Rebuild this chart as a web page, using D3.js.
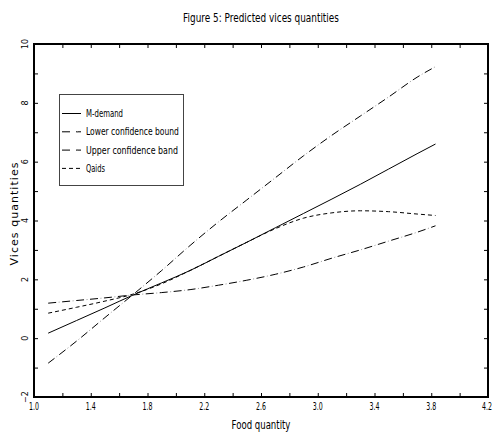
<!DOCTYPE html>
<html>
<head>
<meta charset="utf-8">
<script src="https://cdn.jsdelivr.net/npm/d3@7"></script>
<style>
  body { margin: 0; background: #fff; }
  text { font-family: "DejaVu Sans", sans-serif; fill: #000; }
</style>
</head>
<body>
<svg id="chart" width="494" height="448"></svg>
<script>
// food quantity grid
const food = [1.1, 1.3, 1.5, 1.7, 1.9, 2.1, 2.3, 2.5, 2.7, 2.9, 3.1, 3.3, 3.5, 3.7, 3.83];

// predicted vices quantities
const mDemand = [0.17, 0.60, 1.03, 1.47, 1.88, 2.30, 2.78, 3.26, 3.75, 4.24, 4.73, 5.23, 5.75, 6.27, 6.60];
const lowerBound = [1.19, 1.28, 1.37, 1.47, 1.55, 1.65, 1.80, 1.97, 2.17, 2.42, 2.72, 3.00, 3.30, 3.60, 3.82];
const upperBand = [-0.85, -0.10, 0.70, 1.49, 2.30, 3.15, 3.95, 4.70, 5.45, 6.20, 6.90, 7.55, 8.20, 8.87, 9.23];
const qaids = [0.85, 1.05, 1.26, 1.50, 1.85, 2.30, 2.78, 3.26, 3.72, 4.08, 4.26, 4.33, 4.30, 4.22, 4.17];

const xTickLabels = [1.0, 1.4, 1.8, 2.2, 2.6, 3.0, 3.4, 3.8, 4.2];
const yTickLabels = [-2, 0, 2, 4, 6, 8, 10];

const series = [
  { name: "M-demand", values: mDemand, dash: null, width: 37 },
  { name: "Lower confidence bound", values: lowerBound, dash: "8,6", dots: true, width: 93 },
  { name: "Upper confidence band", values: upperBand, dash: "8,6", dots: true, width: 92 },
  { name: "Qaids", values: qaids, dash: "4,3", width: 19 }
];

const svg = d3.select("#chart");
const m = { left: 34, right: 488, top: 44, bottom: 397 };

const x = d3.scaleLinear().domain([1.0, 4.2]).range([m.left, m.right]);
const y = d3.scaleLinear().domain([-2, 10]).range([m.bottom, m.top]);

// the original uses a tall condensed plotter font: squeeze text horizontally
function narrowText(g, px, py, str, size, width, anchor){
  let t = g.append("text")
    .attr("text-anchor", anchor || "start")
    .style("font-size", size + "px")
    .text(str);
  let sx = width / t.node().getComputedTextLength();
  t.attr("transform", `translate(${px},${py}) scale(${sx},1)`);
  return t;
}

// title
narrowText(svg, 261, 22, "Figure 5: Predicted vices quantities", 12, 156, "middle");

// inward ticks on all four sides
const xt = d3.range(1.0, 4.21, 0.2);
const yt = d3.range(-2, 10.01, 1);
svg.append("g").attr("transform", `translate(0,${m.bottom})`)
  .call(d3.axisBottom(x).tickValues(xt).tickSize(-4).tickFormat(""));
svg.append("g").attr("transform", `translate(0,${m.top})`)
  .call(d3.axisTop(x).tickValues(xt).tickSize(-4).tickFormat(""));
svg.append("g").attr("transform", `translate(${m.left},0)`)
  .call(d3.axisLeft(y).tickValues(yt).tickSize(-4).tickFormat(""));
svg.append("g").attr("transform", `translate(${m.right},0)`)
  .call(d3.axisRight(y).tickValues(yt).tickSize(-4).tickFormat(""));
svg.selectAll(".domain").remove();
svg.selectAll(".tick line").attr("stroke", "#000").attr("stroke-width", 1);

// frame
svg.append("rect")
  .attr("x", m.left).attr("y", m.top)
  .attr("width", m.right - m.left).attr("height", m.bottom - m.top)
  .attr("fill", "none").attr("stroke", "#000").attr("stroke-width", 2);

// x tick labels (last one right-aligned so it stays inside the window)
const xl = svg.append("g");
const last = xTickLabels[xTickLabels.length - 1];
xTickLabels.forEach(d => {
  if (d === last) narrowText(xl, 492, m.bottom + 13, d.toFixed(1), 10, 10, "end");
  else narrowText(xl, x(d), m.bottom + 13, d.toFixed(1), 10, 10, "middle");
});

svg.append("g").selectAll("text").data(yTickLabels).join("text")
  .attr("transform", d => `translate(28,${y(d)}) rotate(-90)`)
  .attr("text-anchor", "middle")
  .style("font-size", "8px")
  .text(d => d < 0 ? "\u2212" + Math.abs(d) : d);

// axis titles
narrowText(svg, 261, 429, "Food quantity", 12, 59, "middle");

svg.append("text")
  .attr("transform", "translate(18,214) rotate(-90)")
  .attr("text-anchor", "middle")
  .style("font-size", "11px")
  .attr("textLength", 103).attr("lengthAdjust", "spacing")
  .text("Vices quantities");

// curves
const line = d3.line().x((d, i) => x(food[i])).y(d => y(d)).curve(d3.curveMonotoneX);
const curves = svg.append("g");
curves.selectAll("path.main").data(series).join("path")
  .attr("class", "main")
  .attr("d", d => line(d.values))
  .attr("fill", "none")
  .attr("stroke", "#000")
  .attr("stroke-width", 1)
  .attr("stroke-dasharray", d => d.dash);
// faint dots between the long dashes of the bounds
curves.selectAll("path.dots").data(series.filter(d => d.dots)).join("path")
  .attr("class", "dots")
  .attr("d", d => line(d.values))
  .attr("fill", "none")
  .attr("stroke", "#999")
  .attr("stroke-width", 1)
  .attr("stroke-dasharray", "1,13")
  .attr("stroke-dashoffset", -10.5);

// legend
const lg = svg.append("g");
lg.append("rect")
  .attr("x", 59.5).attr("y", 94.5).attr("width", 124).attr("height", 91)
  .attr("fill", "#fff").attr("stroke", "#444").attr("stroke-width", 1);
series.forEach((s, i) => {
  const yy = 113.5 + i * 18.3;
  lg.append("line")
    .attr("x1", 62).attr("x2", 81).attr("y1", yy).attr("y2", yy)
    .attr("stroke", "#000").attr("stroke-width", 1)
    .attr("stroke-dasharray", s.dots ? "8,6" : s.dash);
  if (s.dots) {
    lg.append("line")
      .attr("x1", 77).attr("x2", 78).attr("y1", yy).attr("y2", yy)
      .attr("stroke", "#888").attr("stroke-width", 1);
  }
  narrowText(lg, 86, yy + 3.5, s.name, 10, s.width);
});
</script>
</body>
</html>
